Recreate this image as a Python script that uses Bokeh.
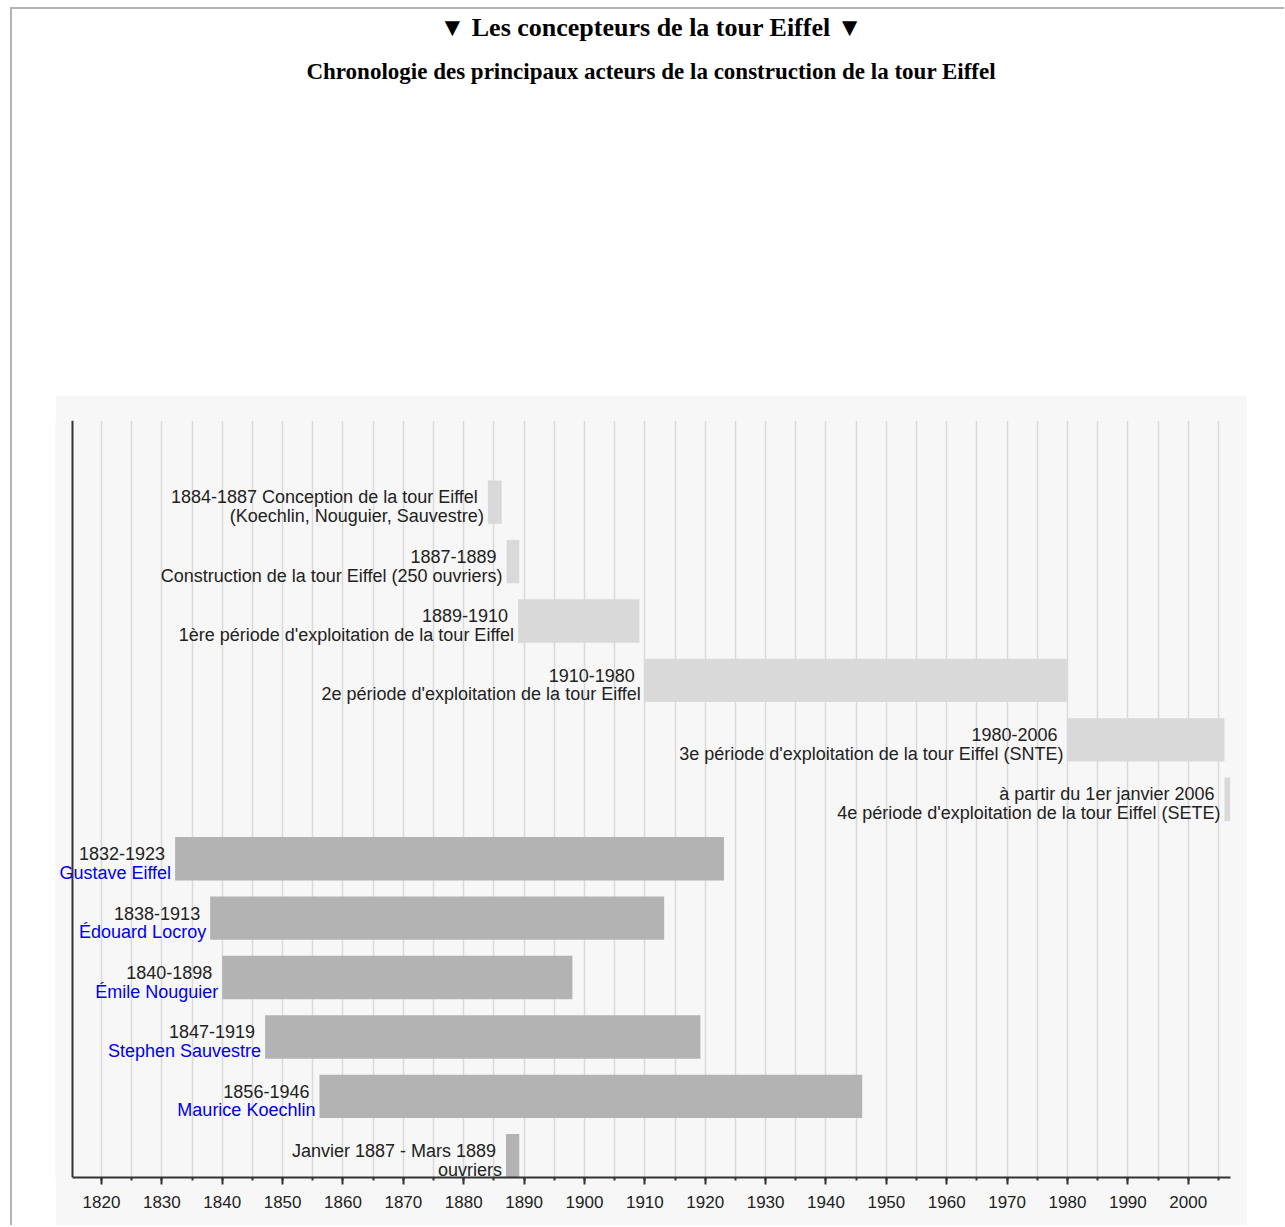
from bokeh.plotting import figure
from bokeh.models import (ColumnDataSource, Range1d, SingleIntervalTicker, Div,
                          LabelSet, Span)
from bokeh.layouts import column
from bokeh.core.properties import value
from bokeh.embed import file_html
from bokeh.resources import INLINE

# ---- data ----
line1 = [
    "1884-1887 Conception de la tour Eiffel",
    "1887-1889",
    "1889-1910",
    "1910-1980",
    "1980-2006",
    "à partir du 1er janvier 2006",
    "1832-1923",
    "1838-1913",
    "1840-1898",
    "1847-1919",
    "1856-1946",
    "Janvier 1887 - Mars 1889",
]
line2 = [
    "(Koechlin, Nouguier, Sauvestre)",
    "Construction de la tour Eiffel (250 ouvriers)",
    "1ère période d'exploitation de la tour Eiffel",
    "2e période d'exploitation de la tour Eiffel",
    "3e période d'exploitation de la tour Eiffel (SNTE)",
    "4e période d'exploitation de la tour Eiffel (SETE)",
    "Gustave Eiffel",
    "Édouard Locroy",
    "Émile Nouguier",
    "Stephen Sauvestre",
    "Maurice Koechlin",
    "ouvriers",
]
starts = [1884.0, 1887.1, 1889.0, 1910.0, 1980.0, 2006.0,
          1832.2, 1838.0, 1840.0, 1847.1, 1856.1, 1887.0]
ends = [1886.3, 1889.2, 1909.1, 1979.9, 2006.0, 2007.2,
        1923.1, 1913.2, 1898.0, 1919.2, 1946.0, 1889.2]
kinds = ["event"] * 6 + ["person"] * 5 + ["workers"]

axis_start, axis_end = 1815.2, 2007.0

rows = list(range(len(line1)))
bar_colors = ["#d9d9d9" if k == "event" else "#b3b3b3" for k in kinds]
name_colors = ["#0000ee" if k == "person" else "#222222" for k in kinds]

src = ColumnDataSource(dict(y=rows, left=starts, right=ends, c=bar_colors,
                            t1=line1, t2=line2, nc=name_colors))

# ---- figure ----
px_per_year = 6.04
p = figure(width=1192, height=830, output_backend="svg", toolbar_location=None,
           x_range=Range1d(axis_start - 17 / px_per_year, axis_end),
           y_range=Range1d(11.365, -1.374),
           min_border_left=0, min_border_right=17, min_border_top=25,
           min_border_bottom=48)
p.margin = (0, 0, 0, 43)
p.background_fill_color = "#f7f7f7"
p.border_fill_color = "#f7f7f7"
p.outline_line_color = None
p.yaxis.visible = False

p.hbar(y="y", left="left", right="right", height=0.73, fill_color="c",
       line_color=None, source=src)

lab1 = LabelSet(x="left", y="y", text="t1", source=src, text_align="right",
                text_baseline="middle", x_offset=-10, y_offset=5,
                text_font=value("Liberation Sans"), text_font_size=value("18px"),
                text_color=value("#222222"))
lab2 = LabelSet(x="left", y="y", text="t2", source=src, text_align="right",
                text_baseline="middle", x_offset=-4, y_offset=-14,
                text_font=value("Liberation Sans"), text_font_size=value("18px"),
                text_color="nc")
p.add_layout(lab1)
p.add_layout(lab2)

# x axis
xa = p.xaxis[0]
xa.bounds = (axis_start, axis_end)
xa.ticker = SingleIntervalTicker(interval=10, num_minor_ticks=2)
xa.axis_line_color = "#333333"
xa.axis_line_width = 2
xa.major_tick_line_color = "#333333"
xa.major_tick_line_width = 2
xa.major_tick_in = 0
xa.major_tick_out = 7
xa.minor_tick_line_color = "#333333"
xa.minor_tick_line_width = 2
xa.minor_tick_in = 0
xa.minor_tick_out = 3
xa.major_label_text_font = "Liberation Sans"
xa.major_label_text_font_size = "17px"
xa.major_label_text_color = "#222222"
xa.major_label_standoff = 11

# vertical axis line
p.add_layout(Span(location=axis_start, dimension="height",
                  line_color="#333333", line_width=2))

p.xgrid.ticker = SingleIntervalTicker(interval=5)
p.xgrid.bounds = (axis_start, axis_end)
p.xgrid.grid_line_color = "#d9d9d9"
p.xgrid.grid_line_width = 1.5
p.ygrid.visible = False

header = Div(
    text=(
        '<div style="position:relative;width:1272px;height:386px;">'
        '<div style="position:absolute;top:4px;left:14px;width:1250px;text-align:center;'
        "font:bold 26px/30px 'Liberation Serif';color:#000;\">"
        '▼ Les concepteurs de la tour Eiffel ▼</div>'
        '<div style="position:absolute;top:49px;left:14px;width:1250px;text-align:center;'
        "font:bold 23px/28px 'Liberation Serif';color:#000;\">"
        'Chronologie des principaux acteurs de la construction de la tour Eiffel</div>'
        '</div>'
    ),
    width=1272, height=386, margin=(0, 0, 0, 0),
)

layout = column(header, p, margin=(7, 0, 0, 10),
                styles={"border-top": "2px solid #b4b4b4",
                        "border-left": "2px solid #b4b4b4"})

open("out.html", "w").write(file_html(layout, INLINE))
